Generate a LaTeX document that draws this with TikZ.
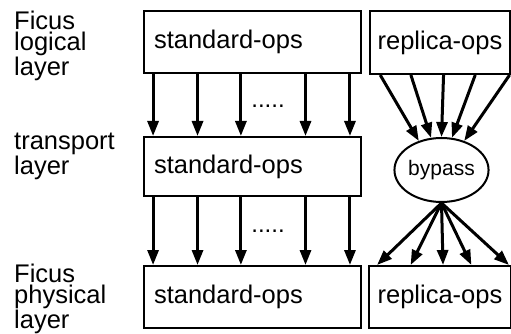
\documentclass[tikz,border=0pt]{standalone}
\usepackage{fontspec}
\setmainfont{Liberation Sans}
\usetikzlibrary{arrows.meta, calc, shapes.geometric}
\tikzset{
  opsbox/.style={draw, line width=2pt, inner sep=0pt, anchor=north west,
    font=\fontsize{25.5}{21}\selectfont},
  stdbox/.style={opsbox, minimum width=217pt, text width=197pt, align=left},
  layerlbl/.style={anchor=north west, inner sep=0pt, align=left,
    font=\fontsize{25.5}{21}\selectfont},
  flow/.style={-{Triangle[length=15pt, width=11pt]}, line width=3pt},
  gap/.style={inner sep=0pt, font=\fontsize{24}{20}\selectfont},
}
\begin{document}
\begin{tikzpicture}[x=1pt, y=-1pt]
  \useasboundingbox (0,0) rectangle (511,334);

  % layer names
  \node[layerlbl] (lgc) at (14,11) {Ficus\\logical\\layer};
  \node[layerlbl] (trn) at (14,133) {transport\\layer};
  \node[layerlbl] (phy) at (14,264) {Ficus\\physical\\layer};

  % boxes
  \node[stdbox, minimum height=62pt] (std1) at (143,10) {standard-ops};
  \node[stdbox, minimum height=59pt] (std2) at (143,136) {standard-ops};
  \node[stdbox, minimum height=62pt] (std3) at (143,265) {standard-ops};
  \node[opsbox, minimum width=140pt, minimum height=63pt] (rep1) at (369,10) {replica-ops};
  \node[opsbox, minimum width=142pt, minimum height=62pt] (rep2) at (368,265) {replica-ops};
  \node[draw, ellipse, line width=2pt, inner sep=0pt, minimum width=83pt, minimum height=64pt,
    font=\fontsize{21}{21}\selectfont] (bypass) at (441.5,170) {bypass};

  \node[gap] (dots1) at (268,106) {.....};
  \node[gap] (dots2) at (268,231) {.....};

  % standard path
  \foreach \f in {0.046,0.249,0.447,0.742,0.945} {
    \draw[flow] ($(std1.south west)!\f!(std1.south east)$) -- ($(std2.north west)!\f!(std2.north east)$);
    \draw[flow] ($(std2.south west)!\f!(std2.south east)$) -- ($(std3.north west)!\f!(std3.north east)$);
  }

  % replica path
  \foreach \f/\a in {0.079/128, 0.295/108, 0.525/90, 0.748/72, 0.99/52}
    \draw[flow] ($(rep1.south west)!\f!(rep1.south east)$) -- (bypass.\a);
  \foreach \f in {0.063,0.296,0.521,0.718,0.979}
    \draw[flow] (bypass.south) -- ($(rep2.north west)!\f!(rep2.north east)$);
\end{tikzpicture}
\end{document}
